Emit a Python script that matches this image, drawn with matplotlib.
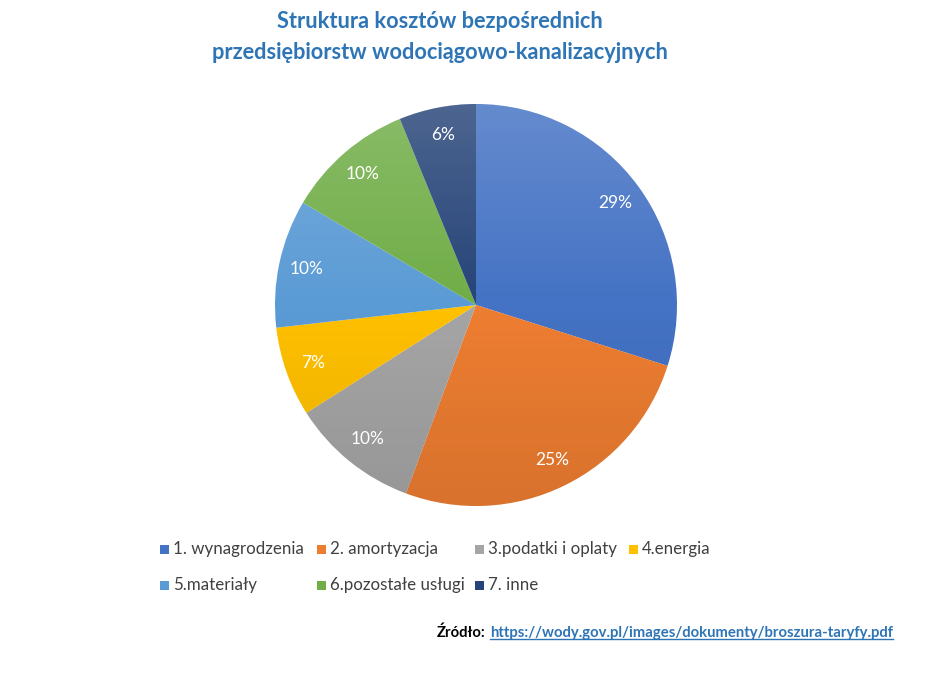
import numpy as np
import matplotlib
matplotlib.use("Agg")
import matplotlib.pyplot as plt
from matplotlib.patches import Circle, Rectangle

plt.rcParams['font.family'] = ['Lato', 'DejaVu Sans']

# data
categories = ["1. wynagrodzenia", "2. amortyzacja", "3.podatki i oplaty", "4.energia",
              "5.materiały", "6.pozostałe usługi", "7. inne"]
values = [29, 25, 10, 7, 10, 10, 6]
colors = ["#4472C4", "#ED7D31", "#A5A5A5", "#FFC000", "#5B9BD5", "#70AD47", "#264478"]

title = "Struktura kosztów bezpośrednich\nprzedsiębiorstw wodociągowo-kanalizacyjnych"
source_label = "Źródło:"
source_url = "https://wody.gov.pl/images/dokumenty/broszura-taryfy.pdf"

W, H = 927, 690
fig = plt.figure(figsize=(W / 100, H / 100), dpi=100)
fig.patch.set_facecolor("white")

# pie axes: centre (476, 305) px, radius 201 px
cx, cy, r = 476, 305, 201
ax = fig.add_axes([(cx - r) / W, (H - cy - r) / H, 2 * r / W, 2 * r / H])
total = sum(values)
wedges, texts, autotexts = ax.pie(
    values, colors=colors, startangle=90, counterclock=False,
    autopct=lambda p: f"{p * total / 100:.0f}%", pctdistance=0.86,
    wedgeprops=dict(linewidth=0),
    textprops=dict(color="white", fontsize=12.5),
)
ax.set_xlim(-1, 1)
ax.set_ylim(-1, 1)
ax.set_aspect("equal")
ax.axis("off")

# light-to-dark vertical shading like the Excel gradient fill
n = 256
shade = np.zeros((n, 1, 4))
t = np.linspace(0, 1, n)
for i, v in enumerate(t):
    if v < 0.5:
        shade[i, 0] = [1, 1, 1, 0.18 * (0.5 - v) * 2]
    else:
        shade[i, 0] = [0, 0, 0, 0.09 * (v - 0.5) * 2]
im = ax.imshow(shade, extent=[-1, 1, -1, 1], aspect="auto", zorder=2, interpolation="bilinear")
im.set_clip_path(Circle((0, 0), 1, transform=ax.transData))
for at in autotexts:
    at.set_zorder(3)

# title
fig.text(440 / W, 1 - 37 / H, title, ha="center", va="center", fontsize=15.7,
         fontweight="bold", color="#2E75B6", linespacing=1.6)

# legend, Excel style grid
col_x = [160, 317, 475, 629]
row_y = [549, 585]
for i, (lab, col) in enumerate(zip(categories, colors)):
    x = col_x[i % 4]
    y = row_y[i // 4]
    fig.patches.append(Rectangle(((x) / W, 1 - (y + 4.5) / H), 9 / W, 9 / H,
                                 transform=fig.transFigure, facecolor=col, edgecolor="none"))
    fig.text((x + 13) / W, 1 - y / H, lab, ha="left", va="center", fontsize=12.2, color="#404040")

# source line
fig.canvas.draw()
renderer = fig.canvas.get_renderer()
t1 = fig.text(437 / W, 1 - 633 / H, source_label, ha="left", va="center", fontsize=10.7,
              fontweight="bold", color="black")
bb = t1.get_window_extent(renderer)
t2 = fig.text((bb.x1 + 4) / W, 1 - 633 / H, source_url, ha="left", va="center", fontsize=10.7,
              fontweight="bold", color="#2E75B6")
bb2 = t2.get_window_extent(renderer)
fig.add_artist(plt.Line2D([bb2.x0 / W, bb2.x1 / W], [(bb2.y0 + 1) / H, (bb2.y0 + 1) / H],
                          transform=fig.transFigure, color="#2E75B6", linewidth=1))

fig.savefig("out.png", dpi=100)
